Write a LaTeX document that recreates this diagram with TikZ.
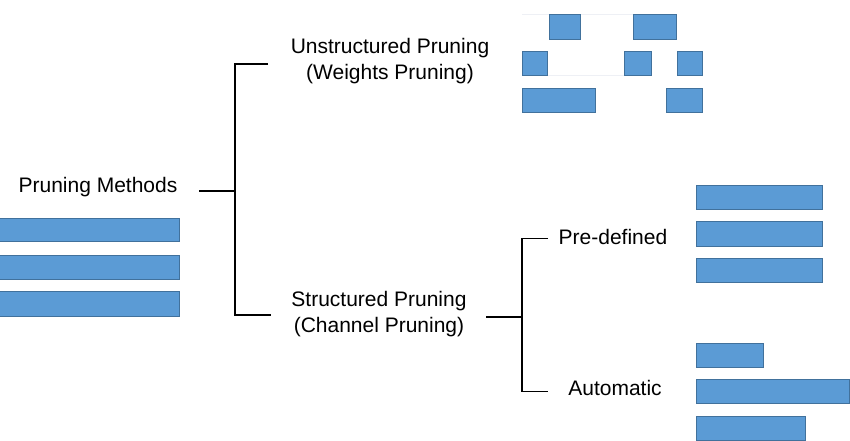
\documentclass[tikz,border=0pt]{standalone}
\usepackage{fontspec}
\setmainfont{Liberation Sans}
\begin{document}
\begin{tikzpicture}[x=1pt,y=-1pt,
  bar/.style={fill=barfill,draw=barline,line width=0.9pt},
  wire/.style={draw=black,line width=1.4pt},
  lbl/.style={font=\fontsize{21}{26}\selectfont,align=center,inner sep=0pt},
  ghost/.style={draw=ghostc,line width=1pt}]
\definecolor{barfill}{HTML}{5B9BD5}
\definecolor{barline}{HTML}{41719C}
\definecolor{ghostc}{HTML}{EEF0F5}
\useasboundingbox (0,0) rectangle (850,441);
\fill[white] (0,0) rectangle (850,441);
% ghost lines
\draw[ghost] (522,14.5) -- (677,14.5);
\draw[ghost] (548,75.7) -- (624,75.7);
% labels
\node[lbl] (pm) at (98,187) {Pruning Methods};
\node[lbl] (un) at (390,61) {Unstructured Pruning\\(Weights Pruning)};
\node[lbl] (st) at (379,314) {Structured Pruning\\(Channel Pruning)};
\node[lbl] (pd) at (613,237) {Pre-defined};
\node[lbl] (au) at (615,388) {Automatic};
% main bracket
\coordinate (m0) at (199,191);
\coordinate (mj) at (235,191);
\coordinate (mt) at (235,64);
\coordinate (mb) at (235,315);
\coordinate (mte) at (268,64);
\coordinate (mbe) at (271,315);
\draw[wire] (m0) -- (mj);
\draw[wire] (mte) -- (mt) -- (mb) -- (mbe);
% secondary bracket
\coordinate (s0) at (486,317);
\coordinate (sj) at (522,317);
\coordinate (st1) at (522,238.5);
\coordinate (sb1) at (522,391.5);
\coordinate (ste) at (548,238.5);
\coordinate (sbe) at (548,391.5);
\draw[wire] (s0) -- (sj);
\draw[wire] (ste) -- (st1) -- (sb1) -- (sbe);
% left bars
\draw[bar] (-1,218.3) rectangle (179,241.7);
\draw[bar] (-1,255) rectangle (179,279);
\draw[bar] (-1,291.7) rectangle (179,316);
% weights pruning bars
\draw[bar] (549.3,14.7) rectangle (580.7,39);
\draw[bar] (633.7,14.7) rectangle (676.7,39);
\draw[bar] (522.7,51.7) rectangle (547.7,75.7);
\draw[bar] (624.7,51.7) rectangle (651.3,75.7);
\draw[bar] (677.7,51.7) rectangle (702.3,75.7);
\draw[bar] (522.7,88.3) rectangle (595.7,112.3);
\draw[bar] (666.3,88.3) rectangle (702.3,112.3);
% predefined bars
\draw[bar] (696.7,185) rectangle (822.3,209.3);
\draw[bar] (696.7,221.7) rectangle (822.3,246);
\draw[bar] (696.7,258.3) rectangle (822.3,282.3);
% automatic bars
\draw[bar] (696.7,343) rectangle (763.7,367);
\draw[bar] (696.7,379.3) rectangle (849.3,403.7);
\draw[bar] (696.7,416) rectangle (805,440.5);
\end{tikzpicture}
\end{document}
